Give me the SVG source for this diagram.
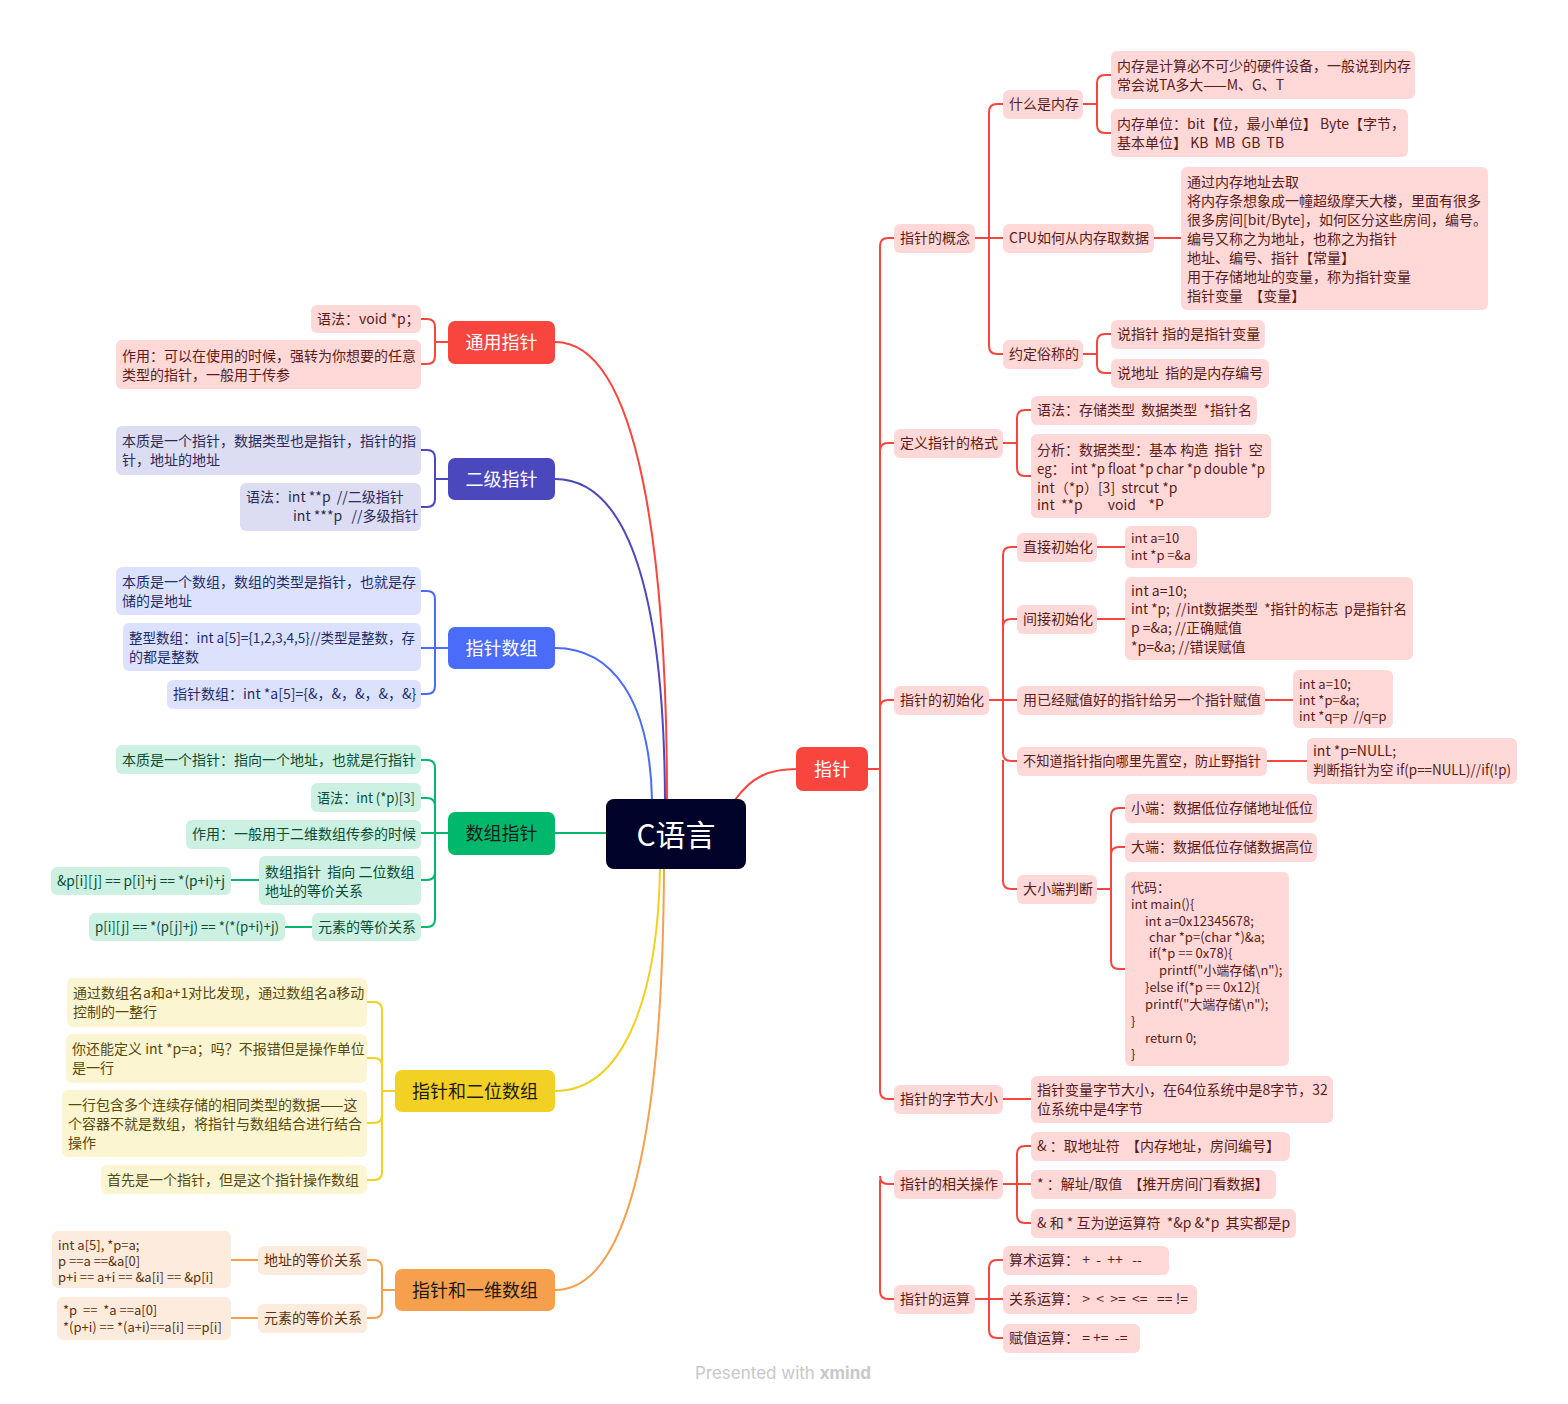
<svg xmlns="http://www.w3.org/2000/svg" width="1568" height="1404" viewBox="0 0 1568 1404" xml:space="preserve">
<style>
text{font-family:"Noto Sans CJK SC","Noto Sans",sans-serif;font-size:14px;white-space:pre}
.sm text{font-size:13px}
.pk rect{fill:#FFD8D7}.pk text{fill:#5B1C1A}
.lv rect{fill:#DCDCF2}.lv text{fill:#2B2A58}
.lb rect{fill:#DCE2FE}.lb text{fill:#1F2D6B}
.lg rect{fill:#CCF1E2}.lg text{fill:#0A4D33}
.ly rect{fill:#FCF5D2}.ly text{fill:#574A0C}
.lo rect{fill:#FDEBDD}.lo text{fill:#5C3210}
.main text{font-size:18px;text-anchor:middle}
.w text{fill:#fff}.d text{fill:#1A1A1A}
#conn path{fill:none;stroke-width:2}
.cr{stroke:#F8463F}.ci{stroke:#4B48BD}.cb{stroke:#4A6CF8}.cg{stroke:#00B86B}.cy{stroke:#F2D024}.co{stroke:#F6A04D}
</style>
<rect width="1568" height="1404" fill="#fff"/>
<g id="conn">
<path class="cr" d="M555 342 C640 342 667 560 667 800" stroke-width="2.5"/>
<path class="ci" d="M555 479 C630 479 664 600 665 800" stroke-width="2.5"/>
<path class="cb" d="M555 648 C612 648 650 700 652 800" stroke-width="2.5"/>
<path class="cg" d="M555 833 H607" stroke-width="2.5"/>
<path class="cy" d="M555 1091 C622 1091 658 1000 660 868" stroke-width="2.5"/>
<path class="co" d="M555 1290 C640 1290 663 1080 664 868" stroke-width="2.5"/>
<path class="cr" d="M735 800 C752 776 770 769 797 769" stroke-width="2.5"/>
<path class="cr" d="M448 342 H435 V327 Q435 319 427 319 H421 M448 342 H435 V356 Q435 364 427 364 H421"/>
<path class="ci" d="M448 479 H435 V458 Q435 450 427 450 H421 M448 479 H435 V499 Q435 507 427 507 H421"/>
<path class="cb" d="M448 648 H435 V599 Q435 591 427 591 H421 M448 648 H421 M448 648 H435 V686 Q435 694 427 694 H421"/>
<path class="cg" d="M448 833 H435 V768 Q435 760 427 760 H421 M435 806 Q435 798 427 798 H421 M448 833 H421 M435 830 V872 Q435 880 427 880 H421 M435 872 V919 Q435 927 427 927 H421 M259 880 H231 M312 927 H285"/>
<path class="cy" d="M395 1091 H382 V1010 Q382 1002 374 1002 H367 M382 1066 Q382 1058 374 1058 H367 M382 1090 V1115 Q382 1123 374 1123 H367 M382 1115 V1172 Q382 1180 374 1180 H367"/>
<path class="co" d="M395 1290 H382 V1268 Q382 1260 374 1260 H367 M382 1290 V1310 Q382 1318 374 1318 H367 M258 1260 H231 M258 1318 H231"/>
<g class="cr">
<path d="M868 769 H880 V246 Q880 238 888 238 H894 M880 451 Q880 443 888 443 H894 M880 708 Q880 700 888 700 H894 M880 760 V1091 Q880 1099 888 1099 H894 M880 1176 Q880 1184 888 1184 H894 M880 1180 V1291 Q880 1299 888 1299 H894" stroke-width="1.6"/>
<path d="M975 238 H989 V112 Q989 104 997 104 H1003 M975 238 H1003 M989 238 V346 Q989 354 997 354 H1003"/>
<path d="M1083 104 H1097 V83 Q1097 75 1105 75 H1111 M1097 104 V125 Q1097 133 1105 133 H1111"/>
<path d="M1154 238 H1181"/>
<path d="M1083 354 H1097 V342 Q1097 334 1105 334 H1111 M1097 354 V365 Q1097 373 1105 373 H1111"/>
<path d="M1003 443 H1017 V418 Q1017 410 1025 410 H1031 M1017 443 V468 Q1017 476 1025 476 H1031"/>
<path d="M989 700 H1003 V555 Q1003 547 1011 547 H1017 M1003 627 Q1003 619 1011 619 H1017 M1003 700 H1017 M1003 700 V753 Q1003 761 1011 761 H1017 M1003 760 V881 Q1003 889 1011 889 H1017"/>
<path d="M1097 547 H1125 M1097 619 H1125 M1265 700 H1293 M1267 761 H1307"/>
<path d="M1097 889 H1111 V816 Q1111 808 1119 808 H1125 M1111 855 Q1111 847 1119 847 H1125 M1111 889 V961 Q1111 969 1119 969 H1125"/>
<path d="M1003 1099 H1031"/>
<path d="M1003 1184 H1017 V1154 Q1017 1146 1025 1146 H1031 M1003 1184 H1031 M1017 1184 V1215 Q1017 1223 1025 1223 H1031"/>
<path d="M975 1299 H989 V1268 Q989 1260 997 1260 H1003 M975 1299 H1003 M989 1299 V1330 Q989 1338 997 1338 H1003"/>
</g>
</g>

<g id="n-root"><rect x="606" y="799" width="140" height="70" rx="8" fill="#000229"/><text x="676" y="846" fill="#fff" text-anchor="middle" style="font-size:30px">C语言</text></g>

<g id="n-zhizhen" class="main w"><rect x="796" y="747" width="72" height="44" rx="7" fill="#F8463F"/><text x="832" y="776">指针</text></g>
<g id="n-tongyong" class="main w"><rect x="448" y="321" width="107" height="43" rx="7" fill="#F8463F"/><text x="501.5" y="349">通用指针</text></g>
<g id="n-erji" class="main w"><rect x="448" y="458" width="107" height="42" rx="7" fill="#4B48BD"/><text x="501.5" y="486">二级指针</text></g>
<g id="n-zzsz" class="main w"><rect x="448" y="627" width="107" height="42" rx="7" fill="#4A6CF8"/><text x="501.5" y="655">指针数组</text></g>
<g id="n-szzz" class="main d"><rect x="448" y="812" width="107" height="43" rx="7" fill="#00B86B"/><text x="501.5" y="840">数组指针</text></g>
<g id="n-erwei" class="main d"><rect x="395" y="1070" width="160" height="42" rx="7" fill="#F2D024"/><text x="475" y="1098">指针和二位数组</text></g>
<g id="n-yiwei" class="main d"><rect x="395" y="1269" width="160" height="42" rx="7" fill="#F6A04D"/><text x="475" y="1297">指针和一维数组</text></g>

<g id="n-gainian" class="pk"><rect x="894" y="224" width="81" height="29" rx="6"/><text x="900" y="243">指针的概念</text></g>
<g id="n-geshi" class="pk"><rect x="894" y="429" width="109" height="29" rx="6"/><text x="900" y="448">定义指针的格式</text></g>
<g id="n-chushihua" class="pk"><rect x="894" y="686" width="95" height="29" rx="6"/><text x="900" y="705">指针的初始化</text></g>
<g id="n-zijie" class="pk"><rect x="894" y="1085" width="109" height="29" rx="6"/><text x="900" y="1104">指针的字节大小</text></g>
<g id="n-caozuo" class="pk"><rect x="894" y="1170" width="109" height="29" rx="6"/><text x="900" y="1189">指针的相关操作</text></g>
<g id="n-yunsuan" class="pk"><rect x="894" y="1285" width="81" height="29" rx="6"/><text x="900" y="1304">指针的运算</text></g>

<g id="n-neicun" class="pk"><rect x="1003" y="90" width="80" height="29" rx="6"/><text x="1009" y="109">什么是内存</text></g>
<g id="n-cpu" class="pk"><rect x="1003" y="224" width="151" height="29" rx="6"/><text x="1009" y="243">CPU如何从内存取数据</text></g>
<g id="n-yueding" class="pk"><rect x="1003" y="340" width="80" height="29" rx="6"/><text x="1009" y="359">约定俗称的</text></g>
<g id="n-nc1" class="pk"><rect x="1111" y="51" width="304" height="48" rx="6"/><text x="1117" y="71">内存是计算必不可少的硬件设备，一般说到内存</text><text x="1117" y="90">常会说TA多大——M、G、T</text></g>
<g id="n-nc2" class="pk"><rect x="1111" y="109" width="297" height="48" rx="6"/><text x="1117" y="129">内存单位：bit【位，最小单位】 Byte【字节，</text><text x="1117" y="148">基本单位】 KB  MB  GB  TB</text></g>
<g id="n-cpu1" class="pk"><rect x="1181" y="167" width="307" height="143" rx="6"/><text x="1187" y="187">通过内存地址去取</text><text x="1187" y="206">将内存条想象成一幢超级摩天大楼，里面有很多</text><text x="1187" y="225">很多房间[bit/Byte]，如何区分这些房间，编号。</text><text x="1187" y="244">编号又称之为地址，也称之为指针</text><text x="1187" y="263">地址、编号、指针【常量】</text><text x="1187" y="282">用于存储地址的变量，称为指针变量</text><text x="1187" y="301">指针变量  【变量】</text></g>
<g id="n-yd1" class="pk"><rect x="1111" y="320" width="154" height="29" rx="6"/><text x="1117" y="339">说指针 指的是指针变量</text></g>
<g id="n-yd2" class="pk"><rect x="1111" y="359" width="158" height="29" rx="6"/><text x="1117" y="378">说地址  指的是内存编号</text></g>
<g id="n-gs1" class="pk"><rect x="1031" y="396" width="226" height="29" rx="6"/><text x="1037" y="415">语法：存储类型  数据类型  *指针名</text></g>
<g id="n-gs2" class="pk"><rect x="1031" y="434" width="240" height="84" rx="6"/><text x="1037" y="455">分析：数据类型：基本 构造  指针  空</text><text x="1037" y="474" textLength="228" lengthAdjust="spacingAndGlyphs">eg：  int *p float *p char *p double *p</text><text x="1037" y="493">int（*p）[3]  strcut *p</text><text x="1037" y="510">int  **p        void    *P</text></g>

<g id="n-zhijie" class="pk"><rect x="1017" y="533" width="80" height="29" rx="6"/><text x="1023" y="552">直接初始化</text></g>
<g id="n-zhijie1" class="pk sm"><rect x="1125" y="526" width="72" height="42" rx="6"/><text x="1131" y="543">int a=10</text><text x="1131" y="560">int *p =&amp;a</text></g>
<g id="n-jianjie" class="pk"><rect x="1017" y="605" width="80" height="29" rx="6"/><text x="1023" y="624">间接初始化</text></g>
<g id="n-jianjie1" class="pk"><rect x="1125" y="577" width="288" height="83" rx="6"/><text x="1131" y="596">int a=10;</text><text x="1131" y="614" textLength="276" lengthAdjust="spacingAndGlyphs">int *p;  //int数据类型  *指针的标志  p是指针名</text><text x="1131" y="633">p =&amp;a; //正确赋值</text><text x="1131" y="652">*p=&amp;a; //错误赋值</text></g>
<g id="n-yiyou" class="pk"><rect x="1017" y="686" width="248" height="29" rx="6"/><text x="1023" y="705">用已经赋值好的指针给另一个指针赋值</text></g>
<g id="n-yiyou1" class="pk sm"><rect x="1293" y="670" width="100" height="58" rx="6"/><text x="1299" y="689">int a=10;</text><text x="1299" y="705">int *p=&amp;a;</text><text x="1299" y="721">int *q=p  //q=p</text></g>
<g id="n-zhikong" class="pk"><rect x="1017" y="747" width="250" height="29" rx="6"/><text x="1023" y="766" textLength="238" lengthAdjust="spacingAndGlyphs">不知道指针指向哪里先置空，防止野指针</text></g>
<g id="n-zhikong1" class="pk"><rect x="1307" y="738" width="210" height="46" rx="6"/><text x="1313" y="756">int *p=NULL;</text><text x="1313" y="775" textLength="198" lengthAdjust="spacingAndGlyphs">判断指针为空 if(p==NULL)//if(!p)</text></g>
<g id="n-daxiao" class="pk"><rect x="1017" y="875" width="80" height="29" rx="6"/><text x="1023" y="894">大小端判断</text></g>
<g id="n-xd" class="pk"><rect x="1125" y="794" width="192" height="29" rx="6"/><text x="1131" y="813">小端：数据低位存储地址低位</text></g>
<g id="n-dd" class="pk"><rect x="1125" y="833" width="192" height="29" rx="6"/><text x="1131" y="852">大端：数据低位存储数据高位</text></g>
<g id="n-code" class="pk sm"><rect x="1125" y="872" width="164" height="194" rx="6"/><text x="1131" y="892">代码：</text><text x="1131" y="909">int main(){</text><text x="1145" y="926">int a=0x12345678;</text><text x="1149" y="942">char *p=(char *)&amp;a;</text><text x="1149" y="958">if(*p == 0x78){</text><text x="1159" y="975">printf("小端存储\n");</text><text x="1145" y="992">}else if(*p == 0x12){</text><text x="1145" y="1009">printf("大端存储\n");</text><text x="1131" y="1026">}</text><text x="1145" y="1043">return 0;</text><text x="1131" y="1059">}</text></g>
<g id="n-zijie1" class="pk"><rect x="1031" y="1076" width="302" height="47" rx="6"/><text x="1037" y="1095">指针变量字节大小，在64位系统中是8字节，32</text><text x="1037" y="1114">位系统中是4字节</text></g>
<g id="n-cz1" class="pk"><rect x="1031" y="1132" width="259" height="29" rx="6"/><text x="1037" y="1151">&amp; ：取地址符  【内存地址，房间编号】</text></g>
<g id="n-cz2" class="pk"><rect x="1031" y="1170" width="245" height="29" rx="6"/><text x="1037" y="1189">* ：解址/取值  【推开房间门看数据】</text></g>
<g id="n-cz3" class="pk"><rect x="1031" y="1209" width="265" height="29" rx="6"/><text x="1037" y="1228">&amp; 和 * 互为逆运算符  *&amp;p &amp;*p  其实都是p</text></g>
<g id="n-ys1" class="pk"><rect x="1003" y="1246" width="166" height="29" rx="6"/><text x="1009" y="1265">算术运算： +  -  ++   --</text></g>
<g id="n-ys2" class="pk"><rect x="1003" y="1285" width="194" height="29" rx="6"/><text x="1009" y="1304">关系运算： &gt;  &lt;  &gt;=  &lt;=   == !=</text></g>
<g id="n-ys3" class="pk"><rect x="1003" y="1324" width="137" height="29" rx="6"/><text x="1009" y="1343">赋值运算： = +=  -=</text></g>

<g id="n-ty1" class="pk"><rect x="311" y="305" width="110" height="28" rx="6"/><text x="317" y="324">语法：void *p；</text></g>
<g id="n-ty2" class="pk"><rect x="116" y="340" width="305" height="49" rx="6"/><text x="122" y="361">作用：可以在使用的时候，强转为你想要的任意</text><text x="122" y="380">类型的指针，一般用于传参</text></g>
<g id="n-ej1" class="lv"><rect x="116" y="426" width="305" height="49" rx="6"/><text x="122" y="446">本质是一个指针，数据类型也是指针，指针的指</text><text x="122" y="465">针，地址的地址</text></g>
<g id="n-ej2" class="lv"><rect x="240" y="483" width="181" height="48" rx="6"/><text x="246" y="502">语法：int **p  //二级指针</text><text x="293" y="521">int ***p   //多级指针</text></g>
<g id="n-zs1" class="lb"><rect x="116" y="567" width="305" height="48" rx="6"/><text x="122" y="587">本质是一个数组，数组的类型是指针，也就是存</text><text x="122" y="606">储的是地址</text></g>
<g id="n-zs2" class="lb"><rect x="123" y="623" width="298" height="48" rx="6"/><text x="129" y="643" textLength="286" lengthAdjust="spacingAndGlyphs">整型数组：int a[5]={1,2,3,4,5}//类型是整数，存</text><text x="129" y="662">的都是整数</text></g>
<g id="n-zs3" class="lb"><rect x="167" y="680" width="254" height="29" rx="6"/><text x="173" y="699">指针数组：int *a[5]={&amp;，&amp;，&amp;，&amp;，&amp;}</text></g>
<g id="n-sz1" class="lg"><rect x="116" y="745" width="305" height="29" rx="6"/><text x="122" y="765">本质是一个指针：指向一个地址，也就是行指针</text></g>
<g id="n-sz2" class="lg"><rect x="311" y="783" width="110" height="29" rx="6"/><text x="317" y="803" textLength="98" lengthAdjust="spacingAndGlyphs">语法：int (*p)[3]</text></g>
<g id="n-sz3" class="lg"><rect x="186" y="820" width="235" height="29" rx="6"/><text x="192" y="839">作用：一般用于二维数组传参的时候</text></g>
<g id="n-sz4" class="lg"><rect x="259" y="856" width="162" height="49" rx="6"/><text x="265" y="877">数组指针  指向 二位数组</text><text x="265" y="896">地址的等价关系</text></g>
<g id="n-sz4a" class="lg"><rect x="51" y="867" width="180" height="28" rx="6"/><text x="57" y="886" textLength="168" lengthAdjust="spacingAndGlyphs">&amp;p[i][j] == p[i]+j == *(p+i)+j</text></g>
<g id="n-sz5" class="lg"><rect x="312" y="913" width="109" height="28" rx="6"/><text x="318" y="932">元素的等价关系</text></g>
<g id="n-sz5a" class="lg"><rect x="89" y="913" width="196" height="28" rx="6"/><text x="95" y="932" textLength="184" lengthAdjust="spacingAndGlyphs">p[i][j] == *(p[j]+j) == *(*(p+i)+j)</text></g>
<g id="n-ew1" class="ly"><rect x="67" y="978" width="300" height="49" rx="6"/><text x="73" y="998">通过数组名a和a+1对比发现，通过数组名a移动</text><text x="73" y="1017">控制的一整行</text></g>
<g id="n-ew2" class="ly"><rect x="66" y="1034" width="301" height="49" rx="6"/><text x="72" y="1054">你还能定义 int *p=a；吗？不报错但是操作单位</text><text x="72" y="1073">是一行</text></g>
<g id="n-ew3" class="ly"><rect x="62" y="1090" width="305" height="67" rx="6"/><text x="68" y="1110">一行包含多个连续存储的相同类型的数据——这</text><text x="68" y="1129">个容器不就是数组，将指针与数组结合进行结合</text><text x="68" y="1148">操作</text></g>
<g id="n-ew4" class="ly"><rect x="101" y="1165" width="266" height="29" rx="6"/><text x="107" y="1185">首先是一个指针，但是这个指针操作数组</text></g>
<g id="n-yw1" class="lo"><rect x="258" y="1246" width="109" height="29" rx="6"/><text x="264" y="1265">地址的等价关系</text></g>
<g id="n-yw1a" class="lo sm"><rect x="52" y="1231" width="179" height="57" rx="6"/><text x="58" y="1250">int a[5], *p=a;</text><text x="58" y="1266">p ==a ==&amp;a[0]</text><text x="58" y="1282">p+i == a+i == &amp;a[i] == &amp;p[i]</text></g>
<g id="n-yw2" class="lo"><rect x="258" y="1304" width="109" height="29" rx="6"/><text x="264" y="1323">元素的等价关系</text></g>
<g id="n-yw2a" class="lo sm"><rect x="57" y="1297" width="174" height="43" rx="6"/><text x="63" y="1315">*p  ==  *a ==a[0]</text><text x="63" y="1332">*(p+i) == *(a+i)==a[i] ==p[i]</text></g>

<text x="783" y="1379" text-anchor="middle" fill="#C8C8C8" style="font-family:Inter,'Noto Sans',sans-serif;font-size:17px">Presented with <tspan font-weight="bold">xmind</tspan></text>
</svg>
